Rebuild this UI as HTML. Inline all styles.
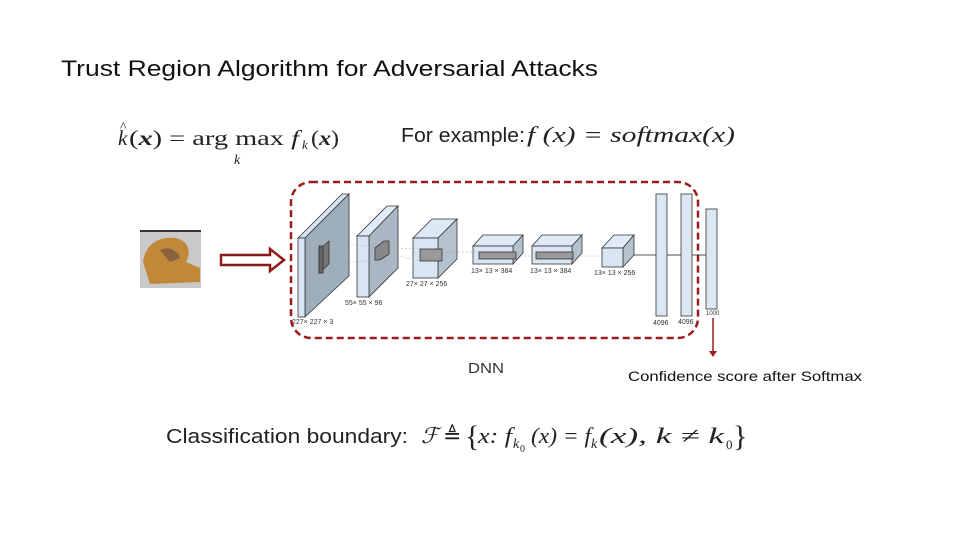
<!DOCTYPE html>
<html><head><meta charset="utf-8"><style>
html,body{margin:0;padding:0;background:#fff}
svg{display:block}
</style></head><body>
<svg width="960" height="540" viewBox="0 0 960 540" xmlns="http://www.w3.org/2000/svg" font-family="Liberation Sans, sans-serif">
<rect width="960" height="540" fill="#fff"/>
<text x="61" y="76" font-size="22.5" fill="#111" textLength="537" lengthAdjust="spacingAndGlyphs">Trust Region Algorithm for Adversarial Attacks</text>

<!-- formulas -->
<g font-family="Liberation Serif, serif" fill="#222">
<text x="118" y="145" font-size="21" font-style="italic">k</text>
<text x="120" y="131" font-size="14">^</text>
<text x="129" y="145" font-size="21" textLength="170" lengthAdjust="spacingAndGlyphs">(<tspan font-style="italic" font-weight="bold">x</tspan>) = arg max <tspan font-style="italic">f</tspan></text>
<text x="302" y="149" font-size="13" font-style="italic">k</text>
<text x="311" y="145" font-size="21" textLength="28" lengthAdjust="spacingAndGlyphs">(<tspan font-style="italic" font-weight="bold">x</tspan>)</text>
<text x="234" y="164" font-size="14" font-style="italic">k</text>
</g>
<text x="401" y="142" font-size="20" fill="#222" textLength="124" lengthAdjust="spacingAndGlyphs">For example:</text>
<text x="527" y="142" font-size="22" fill="#222" font-family="Liberation Serif, serif" font-style="italic" textLength="208" lengthAdjust="spacingAndGlyphs">f (x) = softmax(x)</text>

<!-- image -->
<rect x="140" y="230" width="61" height="58" fill="#c9c9cb"/>
<path d="M143 262 C145 245 158 236 175 238 C188 240 192 252 186 262 L200 268 L200 282 L150 284 Z" fill="#c08838"/>
<path d="M160 250 C168 246 178 250 180 258 L170 262 Z" fill="#8a6040"/>
<rect x="140" y="230" width="61" height="2" fill="#333"/>

<!-- red arrow -->
<path d="M221 255 L270 255 L270 249 L284 260 L270 271 L270 265 L221 265 Z" fill="#fff" stroke="#8b1a1a" stroke-width="2.5"/>

<!-- dashed box -->
<rect x="291" y="182" width="407" height="156" rx="20" fill="none" stroke="#9b1c1c" stroke-width="2.5" stroke-dasharray="7,4"/>

<!-- layers -->
<g stroke="#333" stroke-width="0.8">
<polygon points="298,238 342,194 349,194 305,238" fill="#d4e3f0"/>
<polygon points="305,238 349,194 349,276 305,317" fill="#9eaebb"/>
<rect x="298" y="238" width="7" height="79" fill="#d8e6f3"/>
<polygon points="319,250 329,241 329,264 319,273" fill="#777"/>
<rect x="319" y="246" width="4" height="27" fill="#666"/>

<polygon points="357,236 387,206 398,206 369,236" fill="#e0ebf5"/>
<polygon points="369,236 398,206 398,268 369,297" fill="#a9b8c4"/>
<rect x="357" y="236" width="12" height="61" fill="#d8e6f3"/>
<polygon points="375,248 384,241 389,241 389,254 380,260 375,260" fill="#888"/>

<polygon points="413,238 432,219 457,219 438,238" fill="#dde9f4"/>
<polygon points="438,238 457,219 457,259 438,278" fill="#b4c2ce"/>
<rect x="413" y="238" width="25" height="40" fill="#d8e6f3"/>
<rect x="420" y="249" width="22" height="12" fill="#999"/>

<polygon points="473,246 483,235 523,235 513,246" fill="#e0ebf5"/>
<polygon points="513,246 523,235 523,253 513,264" fill="#b4c2ce"/>
<rect x="473" y="246" width="40" height="18" fill="#d8e6f3"/>
<rect x="479" y="252" width="37" height="7" fill="#999"/>

<polygon points="532,246 542,235 582,235 572,246" fill="#e0ebf5"/>
<polygon points="572,246 582,235 582,253 572,264" fill="#b4c2ce"/>
<rect x="532" y="246" width="40" height="18" fill="#d8e6f3"/>
<rect x="536" y="252" width="37" height="7" fill="#999"/>

<polygon points="602,248 614,235 634,235 623,248" fill="#e0ebf5"/>
<polygon points="623,248 634,235 634,255 623,267" fill="#b4c2ce"/>
<rect x="602" y="248" width="21" height="19" fill="#d8e6f3"/>

<rect x="656" y="194" width="11" height="122" fill="#dbe8f4"/>
<rect x="681" y="194" width="11" height="122" fill="#dbe8f4"/>
<rect x="706" y="209" width="11" height="100" fill="#dbe8f4"/>
</g>
<g stroke="#999" stroke-width="0.4" stroke-dasharray="2,2">
<line x1="329" y1="241" x2="375" y2="248"/><line x1="329" y1="264" x2="375" y2="260"/>
<line x1="389" y1="248" x2="420" y2="249"/><line x1="389" y1="254" x2="420" y2="261"/>
<line x1="442" y1="252" x2="479" y2="252"/><line x1="516" y1="256" x2="536" y2="256"/>
<line x1="573" y1="256" x2="602" y2="256"/>
</g>
<g stroke="#222" stroke-width="0.8">
<line x1="634" y1="255" x2="656" y2="255"/><line x1="667" y1="255" x2="681" y2="255"/><line x1="692" y1="255" x2="706" y2="255"/>
</g>
<g font-size="7" fill="#333">
<text x="292" y="324">227× 227 × 3</text>
<text x="345" y="305">55× 55 × 96</text>
<text x="406" y="286">27× 27 × 256</text>
<text x="471" y="273">13× 13 × 384</text>
<text x="530" y="273">13× 13 × 384</text>
<text x="594" y="275">13× 13 × 256</text>
<text x="653" y="325">4096</text>
<text x="678" y="324">4096</text>
<text x="706" y="315" font-size="6">1000</text>
</g>

<!-- softmax arrow -->
<line x1="713" y1="318" x2="713" y2="352" stroke="#9b1c1c" stroke-width="1.5"/>
<polygon points="709,351 717,351 713,357" fill="#9b1c1c"/>
<text x="628" y="381" font-size="14" fill="#111" textLength="234" lengthAdjust="spacingAndGlyphs">Confidence score after Softmax</text>
<text x="468" y="373" font-size="15" fill="#333" textLength="36" lengthAdjust="spacingAndGlyphs">DNN</text>

<text x="166" y="443" font-size="20" fill="#222" textLength="242" lengthAdjust="spacingAndGlyphs">Classification boundary:</text>
<g font-family="Liberation Serif, serif" fill="#222" font-size="22">
<text x="421" y="443" font-style="italic">ℱ</text>
<text x="443" y="443">≜</text>
<text x="465" y="446" font-size="30">{</text>
<text x="478" y="443" font-style="italic" textLength="34" lengthAdjust="spacingAndGlyphs">x: f</text>
<text x="513" y="448" font-size="14" font-style="italic">k</text>
<text x="520" y="452" font-size="10">0</text>
<text x="531" y="443" font-style="italic" textLength="60" lengthAdjust="spacingAndGlyphs">(x) = f</text>
<text x="591" y="448" font-size="14" font-style="italic">k</text>
<text x="599" y="443" font-style="italic" textLength="125" lengthAdjust="spacingAndGlyphs">(x), k ≠ k</text>
<text x="726" y="449" font-size="13">0</text>
<text x="733" y="446" font-size="30">}</text>
</g>
</svg>
</body></html>
